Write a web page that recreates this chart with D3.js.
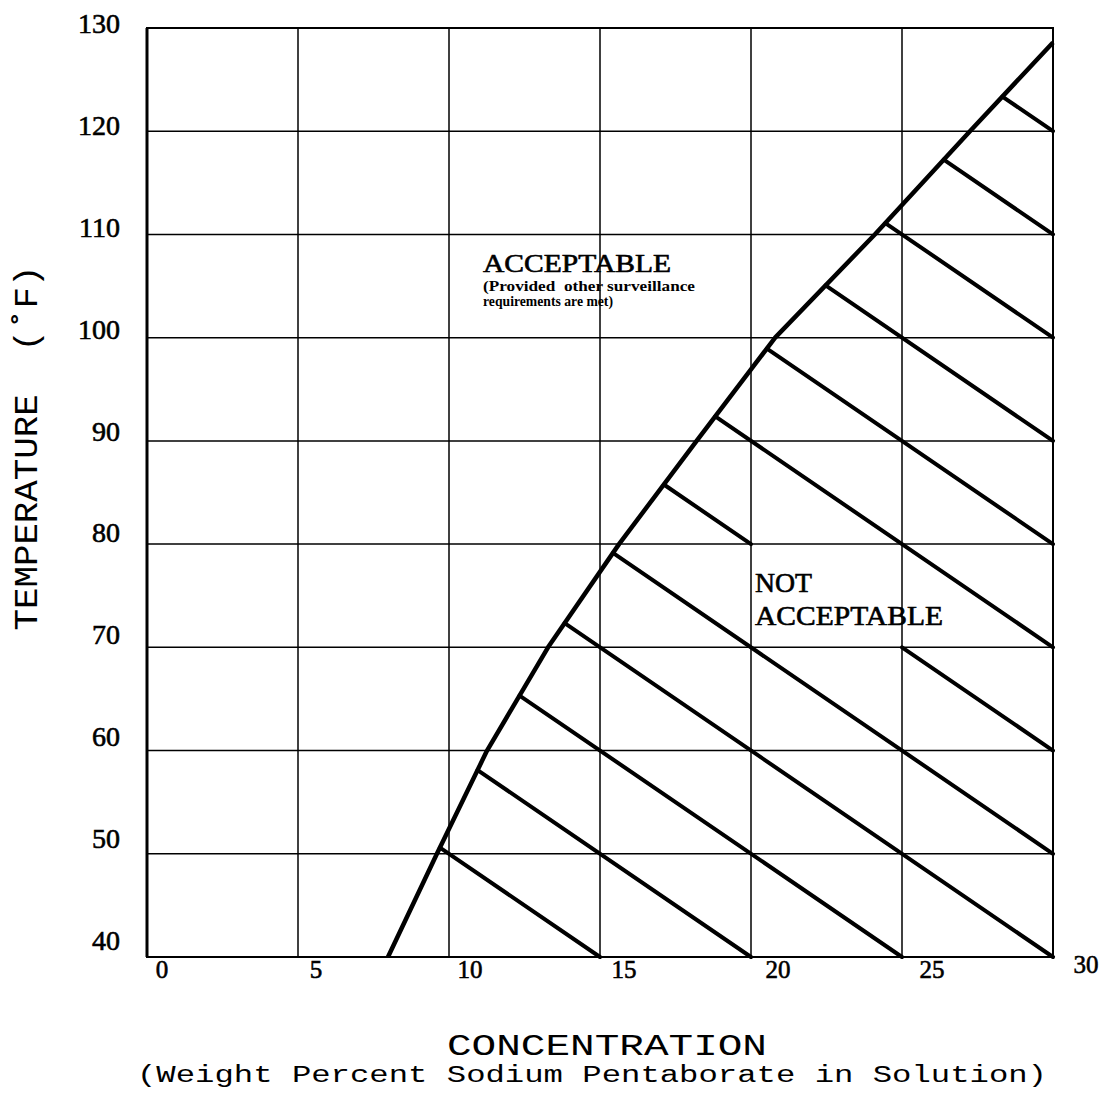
<!DOCTYPE html>
<html>
<head>
<meta charset="utf-8">
<script src="https://cdn.jsdelivr.net/npm/d3@7"></script>
<style>
  html, body { margin: 0; padding: 0; background: #fff; }
  svg { display: block; }
  text { fill: #000; white-space: pre; }
  .heavy { stroke: #000; stroke-width: 0.6px; }
</style>
</head>
<body>
<svg id="chart" width="1111" height="1095"></svg>
<script>
// Saturation boundary: temperature (°F) against solution concentration (wt %)
const boundaryTemp = [40, 50, 60, 70, 80, 90, 100, 110, 120, 128.6];
const boundaryConc = [7.98, 9.6, 11.26, 13.28, 15.63, 18.2, 20.8, 24.1, 27.25, 30];

// Hatching of the unacceptable region: each line is T + 2·C = level
const hatchLevels = [70, 80, 90, 100, 110, 120, 130, 140, 150, 160, 170, 180];
// Stretch of a hatch line left open around the region label (concentration range)
const hatchGaps = [{ level: 120, from: 20, to: 25 }];

const xTicks = [0, 5, 10, 15, 20, 25, 30];
const yTicks = [40, 50, 60, 70, 80, 90, 100, 110, 120, 130];

const xTitle = "CONCENTRATION";
const xSubtitle = "(Weight Percent Sodium Pentaborate in Solution)";
const yTitle = "TEMPERATURE  (˚F)";
const acceptLabel = ["ACCEPTABLE", "(Provided  other surveillance", "requirements are met)"];
const rejectLabel = ["NOT", "ACCEPTABLE"];

// ---- layout ----
const svg = d3.select("#chart");
const plot = { left: 147, right: 1053, top: 28, bottom: 957 };

const x = d3.scaleLinear().domain([0, 30]).range([plot.left, plot.right]);
const y = d3.scaleLinear().domain([40, 130]).range([plot.bottom, plot.top]);

const serif = "'Liberation Serif', 'Times New Roman', serif";
const mono = "'Liberation Mono', 'Courier New', monospace";

// ---- grid ----
const grid = svg.append("g").attr("stroke", "#000").attr("stroke-width", 1.5);
grid.selectAll("line.v").data(xTicks.slice(1, -1)).join("line")
  .attr("class", "v")
  .attr("x1", d => x(d)).attr("x2", d => x(d))
  .attr("y1", y(40)).attr("y2", y(130));
grid.selectAll("line.h").data(yTicks.slice(1, -1)).join("line")
  .attr("class", "h")
  .attr("x1", x(0)).attr("x2", x(30))
  .attr("y1", d => y(d)).attr("y2", d => y(d));

// frame
svg.append("rect")
  .attr("x", x(0)).attr("y", y(130))
  .attr("width", x(30) - x(0)).attr("height", y(40) - y(130))
  .attr("fill", "none").attr("stroke", "#000").attr("stroke-width", 2);
svg.append("line")
  .attr("x1", x(0)).attr("x2", x(0)).attr("y1", y(130)).attr("y2", y(40))
  .attr("stroke", "#000").attr("stroke-width", 3);

// ---- boundary curve ----
const boundary = boundaryTemp.map((t, i) => ({ c: boundaryConc[i], t }));
const line = d3.line().x(d => x(d.c)).y(d => y(d.t));
svg.append("path")
  .datum(boundary)
  .attr("d", line)
  .attr("fill", "none").attr("stroke", "#000")
  .attr("stroke-width", 4.5).attr("stroke-linejoin", "round");

// ---- hatching ----
function boundaryCrossing(level) {
  for (let i = 0; i < boundary.length - 1; i++) {
    const a = boundary[i], b = boundary[i + 1];
    const ga = a.t + 2 * a.c - level, gb = b.t + 2 * b.c - level;
    if (ga <= 0 && gb >= 0) {
      const f = ga === gb ? 0 : -ga / (gb - ga);
      return a.c + f * (b.c - a.c);
    }
  }
  return null;
}

const hatchSegments = [];
hatchLevels.forEach(level => {
  const c0 = boundaryCrossing(level);
  if (c0 === null) return;
  const c1 = Math.min(30, (level - 40) / 2);
  const gap = hatchGaps.find(g => g.level === level);
  const pieces = gap ? [[c0, gap.from], [gap.to, c1]] : [[c0, c1]];
  pieces.forEach(([a, b]) => {
    hatchSegments.push({ c0: a, t0: level - 2 * a, c1: b, t1: level - 2 * b });
  });
});

svg.append("g")
  .selectAll("line").data(hatchSegments).join("line")
  .attr("x1", d => x(d.c0)).attr("y1", d => y(d.t0))
  .attr("x2", d => x(d.c1)).attr("y2", d => y(d.t1))
  .attr("stroke", "#000").attr("stroke-width", 4).attr("stroke-linecap", "round");

// ---- tick labels ----
svg.append("g")
  .selectAll("text").data(yTicks).join("text")
  .attr("class", "heavy")
  .attr("x", x(0) - 27)
  .attr("y", d => y(d) - 4.5 - 12 * (130 - d) / 90 + 9.5)
  .attr("text-anchor", "end")
  .attr("font-family", serif).attr("font-size", 28)
  .text(d => d);

svg.append("g")
  .selectAll("text").data(xTicks).join("text")
  .attr("class", "heavy")
  .attr("x", d => x(d) + 15 + 0.6 * d)
  .attr("y", d => d === 30 ? y(40) + 16 : y(40) + 21)
  .attr("text-anchor", "middle")
  .attr("font-family", serif).attr("font-size", 25)
  .text(d => d);

// ---- axis titles ----
svg.append("text")
  .attr("x", 607).attr("y", 1055)
  .attr("text-anchor", "middle")
  .attr("font-family", mono).attr("font-size", 30)
  .attr("textLength", 320).attr("lengthAdjust", "spacingAndGlyphs")
  .text(xTitle);
svg.append("text")
  .attr("x", 592).attr("y", 1082)
  .attr("text-anchor", "middle")
  .attr("font-family", mono).attr("font-size", 23)
  .attr("textLength", 910).attr("lengthAdjust", "spacingAndGlyphs")
  .text(xSubtitle);
svg.append("text")
  .attr("transform", "translate(37,448) rotate(-90)")
  .attr("text-anchor", "middle")
  .attr("font-family", mono).attr("font-size", 34)
  .attr("textLength", 365).attr("lengthAdjust", "spacingAndGlyphs")
  .text(yTitle);

// ---- region labels ----
const acc = svg.append("g").attr("font-family", serif);
acc.append("text").attr("x", 483).attr("y", 272)
  .attr("class", "heavy")
  .attr("font-size", 25)
  .attr("textLength", 188).attr("lengthAdjust", "spacingAndGlyphs")
  .text(acceptLabel[0]);
acc.append("text").attr("x", 483).attr("y", 291)
  .attr("font-size", 15).attr("font-weight", "bold")
  .attr("textLength", 212).attr("lengthAdjust", "spacingAndGlyphs")
  .text(acceptLabel[1]);
acc.append("text").attr("x", 483).attr("y", 306)
  .attr("font-size", 15).attr("font-weight", "bold")
  .attr("textLength", 130).attr("lengthAdjust", "spacingAndGlyphs")
  .text(acceptLabel[2]);

const rej = svg.append("g").attr("font-family", serif).attr("font-size", 27);
rej.append("text").attr("x", 755).attr("y", 592)
  .attr("class", "heavy")
  .attr("textLength", 57).attr("lengthAdjust", "spacingAndGlyphs")
  .text(rejectLabel[0]);
rej.append("text").attr("x", 755).attr("y", 625)
  .attr("class", "heavy")
  .attr("textLength", 188).attr("lengthAdjust", "spacingAndGlyphs")
  .text(rejectLabel[1]);
</script>
</body>
</html>
